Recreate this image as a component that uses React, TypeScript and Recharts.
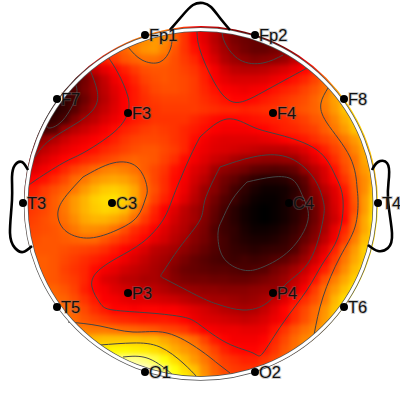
import React from "react";
import { ReferenceDot, Scatter, ScatterChart, XAxis, YAxis } from "recharts";

// heat values, 0 (black) to 100 (white), one row every 10 units from y=30
const heatColumns = [25, 35, 45, 55, 65, 75, 85, 95, 105, 115, 125, 135, 145, 155, 165, 175, 185, 195, 205, 215, 225, 235, 245, 255, 265, 275, 285, 295, 305, 315, 325, 335, 345, 355, 365, 375];
const heatRowsY = [30, 40, 50, 60, 70, 80, 90, 100, 110, 120, 130, 140, 150, 160, 170, 180, 190, 200, 210, 220, 230, 240, 250, 260, 270, 280, 290, 300, 310, 320, 330, 340, 350, 360, 370, 380];
const heatValues = [
  [45, 45, 45, 45, 45, 45, 45, 45, 46, 48, 50, 51, 52, 53, 55, 50, 45, 38, 33, 28, 23, 20, 17, 16, 16, 16, 16, 18, 20, 22, 24, 26, 28, 30, 32, 34],
  [45, 45, 45, 45, 45, 45, 45, 45, 46, 48, 50, 54, 58, 60, 58, 52, 45, 38, 33, 27, 22, 18, 16, 15, 15, 16, 18, 20, 24, 28, 30, 32, 34, 36, 38, 40],
  [40, 40, 40, 40, 40, 40, 40, 42, 45, 48, 52, 56, 59, 60, 56, 50, 45, 40, 35, 29, 24, 20, 17, 15, 15, 17, 20, 24, 30, 34, 38, 42, 46, 50, 52, 54],
  [30, 30, 30, 30, 30, 30, 34, 38, 42, 46, 50, 52, 54, 54, 52, 49, 46, 43, 37, 32, 26, 23, 21, 19, 20, 21, 23, 28, 34, 40, 44, 48, 52, 56, 58, 60],
  [15, 15, 15, 15, 15, 18, 23, 29, 34, 38, 42, 46, 49, 50, 50, 49, 47, 45, 41, 36, 31, 28, 27, 27, 28, 30, 32, 35, 38, 42, 48, 54, 58, 60, 62, 64],
  [8, 8, 8, 8, 8, 11, 17, 23, 29, 35, 39, 43, 47, 49, 50, 49, 48, 46, 42, 37, 34, 32, 32, 32, 33, 35, 37, 40, 43, 47, 52, 56, 60, 62, 64, 66],
  [6, 6, 6, 6, 9, 12, 18, 23, 28, 33, 37, 41, 45, 48, 49, 49, 48, 46, 43, 40, 37, 36, 35, 36, 37, 40, 42, 44, 47, 50, 54, 60, 64, 66, 68, 70],
  [5, 5, 5, 6, 7, 10, 16, 22, 27, 32, 37, 41, 44, 46, 47, 47, 47, 46, 44, 42, 40, 38, 38, 39, 41, 43, 45, 47, 49, 52, 56, 61, 66, 68, 70, 72],
  [4, 4, 4, 5, 8, 13, 19, 25, 29, 33, 37, 41, 44, 45, 46, 46, 46, 46, 45, 44, 43, 43, 42, 43, 44, 45, 46, 48, 50, 52, 55, 60, 66, 69, 71, 72],
  [5, 5, 6, 8, 11, 19, 25, 28, 32, 35, 38, 41, 43, 45, 45, 45, 45, 43, 41, 39, 38, 38, 39, 40, 41, 42, 43, 45, 47, 50, 52, 57, 63, 68, 70, 72],
  [9, 9, 10, 13, 23, 27, 30, 33, 36, 39, 42, 44, 46, 47, 46, 45, 43, 41, 39, 37, 36, 36, 36, 37, 38, 40, 42, 43, 45, 47, 51, 55, 60, 66, 69, 72],
  [18, 18, 22, 26, 30, 33, 35, 37, 39, 42, 45, 47, 48, 48, 47, 45, 43, 39, 36, 34, 33, 33, 33, 33, 34, 35, 37, 39, 41, 44, 47, 50, 55, 60, 66, 70],
  [24, 24, 28, 31, 34, 36, 38, 40, 43, 45, 47, 49, 50, 50, 48, 46, 43, 37, 35, 33, 32, 31, 30, 29, 28, 28, 28, 30, 33, 37, 42, 47, 51, 57, 63, 68],
  [28, 28, 32, 35, 38, 40, 43, 45, 47, 49, 51, 52, 51, 50, 47, 44, 39, 36, 33, 30, 28, 25, 23, 22, 21, 21, 22, 23, 28, 33, 38, 44, 50, 54, 62, 67],
  [30, 33, 36, 39, 43, 47, 50, 53, 56, 57, 56, 54, 51, 48, 45, 40, 37, 33, 30, 24, 21, 19, 17, 14, 13, 12, 13, 15, 22, 27, 32, 40, 48, 54, 60, 66],
  [36, 38, 40, 44, 48, 53, 55, 59, 61, 62, 61, 58, 53, 48, 44, 39, 36, 31, 27, 21, 17, 14, 10, 7, 5, 5, 6, 10, 14, 24, 31, 38, 45, 52, 58, 65],
  [40, 42, 46, 49, 52, 55, 60, 64, 67, 68, 66, 62, 54, 49, 44, 39, 35, 29, 23, 20, 15, 10, 7, 4, 2, 2, 3, 6, 12, 20, 27, 33, 41, 51, 58, 68],
  [42, 44, 47, 51, 55, 60, 64, 68, 70, 71, 68, 62, 54, 47, 42, 38, 33, 27, 22, 17, 12, 9, 5, 2, 1, 1, 3, 7, 12, 18, 24, 32, 39, 50, 60, 70],
  [44, 46, 48, 51, 55, 60, 64, 67, 69, 68, 65, 58, 50, 43, 37, 33, 28, 24, 20, 15, 10, 6, 3, 1, 0, 1, 3, 6, 9, 16, 24, 31, 39, 49, 60, 71],
  [45, 47, 49, 51, 54, 58, 62, 64, 64, 62, 59, 53, 46, 41, 36, 31, 27, 24, 19, 14, 9, 6, 3, 1, 0, 1, 3, 6, 10, 16, 24, 30, 38, 52, 62, 72],
  [46, 48, 49, 50, 52, 55, 58, 58, 57, 54, 49, 44, 41, 37, 33, 29, 26, 21, 18, 12, 9, 7, 4, 2, 2, 3, 5, 8, 12, 18, 25, 34, 43, 53, 62, 70],
  [47, 49, 50, 50, 51, 52, 53, 53, 50, 47, 44, 41, 38, 34, 31, 27, 24, 20, 17, 13, 10, 7, 5, 4, 4, 5, 7, 10, 15, 20, 28, 36, 46, 56, 65, 70],
  [49, 50, 50, 50, 49, 48, 47, 46, 44, 41, 38, 35, 32, 28, 26, 24, 21, 18, 15, 12, 10, 8, 7, 6, 7, 8, 9, 12, 19, 26, 33, 42, 52, 60, 68, 72],
  [50, 51, 51, 50, 48, 46, 44, 42, 40, 38, 35, 32, 29, 26, 24, 21, 18, 15, 13, 11, 10, 9, 10, 9, 10, 12, 14, 18, 23, 30, 37, 46, 55, 62, 68, 74],
  [50, 51, 51, 50, 47, 45, 43, 39, 36, 34, 31, 29, 27, 25, 23, 19, 16, 15, 14, 13, 13, 12, 11, 12, 13, 17, 20, 24, 29, 35, 42, 50, 58, 65, 70, 75],
  [52, 52, 51, 50, 48, 46, 43, 38, 33, 31, 28, 27, 25, 25, 23, 20, 18, 17, 17, 16, 16, 15, 15, 16, 18, 20, 23, 28, 33, 40, 49, 56, 62, 68, 72, 75],
  [52, 52, 52, 52, 50, 47, 42, 38, 36, 33, 31, 30, 29, 28, 26, 24, 23, 22, 21, 21, 20, 20, 20, 21, 22, 22, 25, 31, 37, 46, 54, 60, 66, 72, 74, 76],
  [53, 53, 53, 53, 52, 49, 45, 41, 37, 36, 34, 33, 33, 32, 31, 30, 28, 26, 25, 24, 24, 23, 22, 23, 25, 29, 33, 39, 44, 49, 55, 64, 70, 75, 76, 78],
  [55, 55, 55, 55, 54, 51, 48, 44, 41, 38, 38, 37, 38, 38, 37, 37, 35, 33, 31, 29, 27, 26, 25, 26, 29, 33, 38, 43, 48, 53, 59, 66, 72, 76, 78, 78],
  [56, 56, 56, 56, 55, 53, 50, 48, 46, 44, 43, 42, 41, 41, 41, 40, 38, 35, 33, 32, 31, 30, 29, 30, 32, 35, 38, 44, 49, 54, 60, 67, 74, 78, 78, 78],
  [58, 58, 58, 58, 58, 56, 56, 55, 55, 54, 53, 52, 51, 50, 48, 47, 45, 41, 37, 36, 35, 35, 34, 34, 35, 40, 45, 50, 54, 57, 62, 68, 74, 78, 78, 78],
  [62, 62, 62, 62, 62, 62, 62, 65, 66, 66, 66, 66, 65, 65, 62, 59, 56, 53, 47, 41, 38, 36, 36, 36, 38, 43, 48, 53, 57, 60, 64, 70, 74, 78, 78, 78],
  [70, 70, 70, 70, 70, 70, 70, 72, 73, 74, 74, 73, 72, 70, 67, 63, 60, 57, 52, 47, 42, 39, 38, 38, 40, 45, 50, 54, 58, 60, 64, 70, 74, 78, 78, 78],
  [78, 78, 78, 78, 78, 78, 78, 82, 85, 86, 88, 89, 87, 82, 76, 70, 65, 60, 55, 50, 46, 44, 42, 42, 45, 48, 52, 55, 58, 60, 64, 70, 74, 78, 78, 78],
  [85, 85, 85, 85, 85, 85, 85, 90, 93, 95, 97, 98, 95, 91, 85, 76, 70, 66, 58, 52, 48, 46, 45, 45, 48, 50, 53, 55, 58, 60, 64, 70, 74, 78, 78, 78],
  [90, 90, 90, 90, 90, 90, 90, 92, 94, 96, 98, 100, 98, 92, 88, 80, 74, 68, 60, 54, 50, 48, 48, 48, 50, 52, 54, 56, 58, 60, 64, 70, 74, 78, 78, 78],
];

const contours = [
  [[197, 32], [200, 50], [213, 80], [233, 102], [263, 92], [307, 68]],
  [[222, 30], [225, 43], [240, 60], [263, 63], [283, 55]],
  [[128, 47], [142, 60], [160, 62], [170, 50], [172, 40]],
  [[108, 57], [118, 73], [128, 97], [127, 115], [113, 133], [83, 153], [63, 163], [33, 182], [27, 188]],
  [[90, 70], [97, 90], [95, 107], [77, 123], [50, 140], [35, 157]],
  [[75, 83], [76, 97], [63, 120], [50, 128], [47, 126]],
  [[328, 88], [321, 103], [327, 123], [350, 157], [357, 187], [358, 200], [355, 227], [340, 257], [323, 297], [314, 335]],
  [[200, 137], [227, 119], [253, 127], [280, 135], [317, 150], [335, 175], [343, 200], [338, 237], [323, 263], [307, 290], [283, 323], [263, 353], [253, 353], [227, 343], [200, 325], [183, 317], [150, 313], [113, 310], [100, 303], [92, 287], [97, 272], [117, 258], [143, 242], [163, 220], [172, 200], [180, 180], [190, 157], [200, 137]],
  [[220, 167], [253, 157], [287, 157], [313, 177], [323, 200], [323, 220], [310, 260], [287, 283], [267, 303], [243, 310], [220, 305], [200, 297], [167, 280], [163, 272], [180, 247], [200, 220], [205, 200], [220, 167]],
  [[247, 182], [273, 177], [293, 180], [303, 197], [308, 220], [290, 250], [263, 267], [243, 270], [223, 257], [218, 233], [222, 220], [232, 200], [247, 182]],
  [[83, 177], [113, 163], [137, 167], [147, 187], [145, 200], [137, 217], [117, 230], [90, 238], [67, 232], [58, 217], [63, 200], [83, 177]],
  [[68, 322], [100, 326], [133, 332], [167, 333], [200, 350], [217, 363], [230, 373]],
  [[100, 345], [133, 343], [160, 347], [183, 363], [197, 377]],
  [[123, 357], [147, 358], [167, 370], [173, 375]],
];

const nose = [[170, 30], [182, 16], [193, 5], [203, 3], [211, 7], [220, 18], [230, 30]];
const leftEar = [[28, 170], [22, 162], [15, 165], [12, 177], [12, 200], [10, 233], [15, 248], [23, 252], [32, 246]];
const rightEar = [[372, 170], [378, 162], [387, 163], [389, 177], [388, 200], [392, 233], [388, 248], [378, 251], [368, 245]];

const electrodes = [
  { name: "Fp1", x: 145, y: 35 },
  { name: "Fp2", x: 255, y: 35 },
  { name: "F7", x: 57, y: 99 },
  { name: "F3", x: 128, y: 113 },
  { name: "F4", x: 273, y: 113 },
  { name: "F8", x: 344, y: 99 },
  { name: "T3", x: 23, y: 203 },
  { name: "C3", x: 112, y: 203 },
  { name: "C4", x: 289, y: 203 },
  { name: "T4", x: 378, y: 203 },
  { name: "T5", x: 57, y: 307 },
  { name: "P3", x: 128, y: 293 },
  { name: "P4", x: 273, y: 293 },
  { name: "T6", x: 344, y: 307 },
  { name: "O1", x: 145, y: 372 },
  { name: "O2", x: 255, y: 372 },
];

const toPoints = (pts: number[][]) => pts.map(([x, y]) => ({ x, y }));

// matlab "hot" colormap
const hot = (v: number) => {
  const r = Math.min(1, v / 37.5);
  const g = Math.max(0, Math.min(1, (v - 37.5) / 37.5));
  const b = Math.max(0, (v - 75) / 25);
  return `rgb(${Math.round(r * 255)},${Math.round(g * 255)},${Math.round(b * 255)})`;
};

// edge cells are repeated one step outwards so the blur does not fade at the rim
const heatCells: { x: number; y: number; v: number }[] = [];
heatValues.forEach((row, i) => {
  const ys = i === 0 ? [20, 30] : i === heatValues.length - 1 ? [380, 390] : [heatRowsY[i]];
  ys.forEach((y) => {
    row.forEach((v, j) => {
      heatCells.push({ x: heatColumns[j], y, v });
      if (j === 0) heatCells.push({ x: 15, y, v });
      if (j === row.length - 1) heatCells.push({ x: 385, y, v });
    });
  });
});

const HeatCell = (props: any) => (
  <rect x={props.cx - 5.5} y={props.cy - 5.5} width={11} height={11} fill={hot(props.payload.v)} />
);

const Electrode = (props: any) => (
  <g>
    <circle cx={props.cx} cy={props.cy} r={4} fill="#000" />
    <text
      x={props.cx + 4}
      y={props.cy + 6}
      fontFamily="Liberation Sans"
      fontSize={16.5}
      fill="#111"
      stroke="rgba(120,120,120,0.35)"
      strokeWidth={2}
      paintOrder="stroke"
    >
      {props.payload.name}
    </text>
  </g>
);

const noDot = () => null;

const App = () => {
  return (
    <div style={{ position: "absolute", left: 0, top: 0 }}>
      <style>{`
        .heat { clip-path: url(#headClip); filter: blur(2.5px); }
      `}</style>
      <ScatterChart width={400} height={400} margin={{ top: 0, right: 0, bottom: 0, left: 0 }}>
        <defs>
          <clipPath id="headClip">
            <circle cx={201} cy={203} r={177} />
          </clipPath>
        </defs>
        <XAxis type="number" dataKey="x" domain={[0, 400]} hide allowDataOverflow />
        <YAxis type="number" dataKey="y" domain={[0, 400]} reversed hide allowDataOverflow />
        <Scatter className="heat" data={heatCells} shape={HeatCell} isAnimationActive={false} />
        {contours.map((c, i) => (
          <Scatter
            key={i}
            data={toPoints(c)}
            line={{ stroke: "#444", strokeWidth: 1 }}
            lineJointType="natural"
            shape={noDot}
            isAnimationActive={false}
          />
        ))}
        <ReferenceDot x={200.5} y={204} r={174.5} fill="none" stroke="#555" strokeWidth={4.6} />
        <ReferenceDot x={200.5} y={204} r={174.5} fill="none" stroke="#fff" strokeWidth={3.2} />
        {[nose, leftEar, rightEar].map((c, i) => (
          <Scatter
            key={i}
            data={toPoints(c)}
            line={{ stroke: "#000", strokeWidth: 2.6 }}
            lineJointType="natural"
            shape={noDot}
            isAnimationActive={false}
          />
        ))}
        <Scatter data={electrodes} shape={Electrode} isAnimationActive={false} />
      </ScatterChart>
    </div>
  );
};

export default App;
